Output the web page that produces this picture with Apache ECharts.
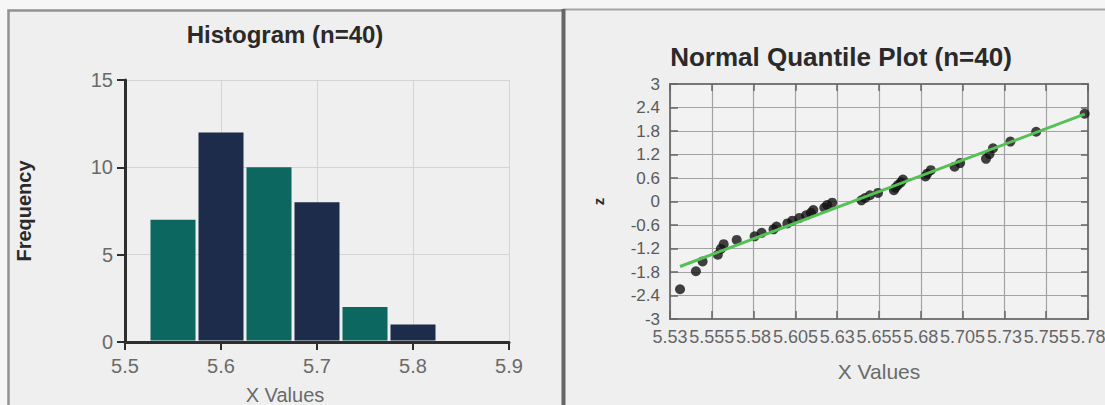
<!DOCTYPE html>
<html>
<head>
<meta charset="utf-8">
<script src="https://cdn.jsdelivr.net/npm/echarts@6/dist/echarts.min.js"></script>
<style>
html,body{margin:0;padding:0;background:#efefef;}
#chart{width:1105px;height:405px;}
</style>
</head>
<body>
<div id="chart"></div>
<script>
// ---- Data ----
// Histogram bins (X Values) and frequencies
const binStart = [5.525, 5.575, 5.625, 5.675, 5.725, 5.775];
const binEnd   = [5.575, 5.625, 5.675, 5.725, 5.775, 5.825];
const binCount = [7, 12, 10, 8, 2, 1];

// Normal quantile plot points (x value, z score)
const qqX = [5.536, 5.5455, 5.5495, 5.5586, 5.5604, 5.5621, 5.5699, 5.5806, 5.5848, 5.5919,
             5.5937, 5.6002, 5.6032, 5.6074, 5.6114, 5.6143, 5.6157, 5.6223, 5.624, 5.627,
             5.6445, 5.6467, 5.6496, 5.6544, 5.6639, 5.6648, 5.6663, 5.6681, 5.6693, 5.6828,
             5.6838, 5.686, 5.7002, 5.7035, 5.719, 5.7211, 5.7232, 5.7336, 5.749, 5.778];
const qqZ = [-2.24, -1.78, -1.53, -1.36, -1.21, -1.09, -0.98, -0.89, -0.80, -0.71,
             -0.64, -0.56, -0.49, -0.42, -0.35, -0.29, -0.22, -0.16, -0.09, -0.03,
             0.03, 0.09, 0.16, 0.22, 0.29, 0.35, 0.42, 0.49, 0.56, 0.64,
             0.71, 0.80, 0.89, 0.98, 1.09, 1.21, 1.36, 1.53, 1.78, 2.24];

// Fitted normal reference line
const fitX = [5.536, 5.778];
const fitZ = [-1.66, 2.23];

// Titles / axis names
const histTitle = 'Histogram (n=40)';
const qqTitle = 'Normal Quantile Plot (n=40)';
const histXName = 'X Values';
const histYName = 'Frequency';
const qqXName = 'X Values';
const qqYName = 'z';

// ---- Styling ----
const FONT = '"Liberation Sans", Arial, sans-serif';
const barColors = ['#0b675f', '#1d2c4a'];

const chart = echarts.init(document.getElementById('chart'), null, {renderer: 'svg'});

const histData = binStart.map((s, i) => [s, binEnd[i], binCount[i]]);
const qqData = qqX.map((x, i) => [x, qqZ[i]]);
const fitData = fitX.map((x, i) => [x, fitZ[i]]);

const txt = (text, x, y, size, weight, color, rotation) => ({
  type: 'text', x: x, y: y, rotation: rotation || 0, z: 100,
  style: {
    text: text, fill: color,
    font: weight + ' ' + size + 'px ' + FONT,
    align: 'center', verticalAlign: 'middle',
    textAlign: 'center', textVerticalAlign: 'middle'
  }
});

const option = {
  backgroundColor: '#efefef',
  animation: false,
  graphic: {
    elements: [
      {type: 'rect', shape: {x: 0, y: 0, width: 1105, height: 9}, style: {fill: '#f6f6f6'}, z: -10, silent: true},
      {type: 'rect', shape: {x: 0, y: 0, width: 7, height: 405}, style: {fill: '#f6f6f6'}, z: -10, silent: true},
      {type: 'rect', shape: {x: 8.5, y: 10.5, width: 555, height: 420}, style: {fill: 'none', stroke: '#929292', lineWidth: 2.5}, z: 50, silent: true},
      {type: 'line', shape: {x1: 563, y1: 9.5, x2: 1105, y2: 9.5}, style: {stroke: '#a5a5a5', lineWidth: 2}, z: 50, silent: true},
      {type: 'line', shape: {x1: 563.5, y1: 9, x2: 563.5, y2: 405}, style: {stroke: '#666666', lineWidth: 4}, z: 51, silent: true},
      txt(histTitle, 285, 34, 24, 'bold', '#2a2a2a'),
      txt(qqTitle, 841, 57, 26, 'bold', '#2a2a2a'),
      txt(histXName, 285, 395, 20, 'normal', '#6a6a6a')
    ]
  },
  grid: [
    {left: 125, top: 80, width: 384, height: 262, show: false, outerBoundsMode: 'none', containLabel: false},
    {left: 670, top: 84, width: 418, height: 235, show: true, backgroundColor: '#f2f2f2',
     borderColor: '#777', borderWidth: 2, outerBoundsMode: 'none', containLabel: false}
  ],
  xAxis: [
    {
      type: 'value', gridIndex: 0, min: 5.5, max: 5.9, interval: 0.1,
      axisLine: {show: true, onZero: false, lineStyle: {color: '#2e2e2e', width: 3}},
      axisTick: {show: true, inside: false, length: 8, lineStyle: {color: '#2e2e2e', width: 2}},
      axisLabel: {show: true, margin: 14, fontSize: 20, color: '#6a6a6a', fontFamily: FONT,
                  showMinLabel: true, showMaxLabel: true},
      splitLine: {show: true, lineStyle: {color: '#d4d4d4', width: 1}}
    },
    {
      type: 'value', gridIndex: 1, position: 'bottom', min: 5.53, max: 5.78, interval: 0.025,
      name: qqXName, nameLocation: 'middle', nameGap: 42, nameMoveOverlap: false,
      nameTextStyle: {fontSize: 21, color: '#6a6a6a', fontFamily: FONT},
      axisLine: {show: true, onZero: false, lineStyle: {color: '#777', width: 2}},
      axisTick: {show: true, inside: true, length: 8, lineStyle: {color: '#666', width: 1.5}},
      axisLabel: {show: true, margin: 9, fontSize: 18, color: '#666', fontFamily: FONT,
                  hideOverlap: false, showMinLabel: true, showMaxLabel: true},
      splitLine: {show: true, lineStyle: {color: '#a2a2a2', width: 1.2}}
    },
    {
      type: 'value', gridIndex: 1, position: 'top', min: 5.53, max: 5.78, interval: 0.025,
      axisLine: {show: true, onZero: false, lineStyle: {color: '#777', width: 2}},
      axisTick: {show: true, inside: true, length: 7, lineStyle: {color: '#666', width: 1.5}},
      axisLabel: {show: false},
      splitLine: {show: false}
    }
  ],
  yAxis: [
    {
      type: 'value', gridIndex: 0, min: 0, max: 15, interval: 5,
      name: histYName, nameLocation: 'middle', nameGap: 91, nameRotate: 90, nameMoveOverlap: false,
      nameTextStyle: {fontSize: 20, fontWeight: 'bold', color: '#2a2a2a', fontFamily: FONT},
      axisLine: {show: true, onZero: false, lineStyle: {color: '#2e2e2e', width: 3}},
      axisTick: {show: true, inside: false, length: 8, lineStyle: {color: '#2e2e2e', width: 2}},
      axisLabel: {show: true, margin: 12, fontSize: 20, color: '#6a6a6a', fontFamily: FONT,
                  showMinLabel: true, showMaxLabel: true},
      splitLine: {show: true, lineStyle: {color: '#d4d4d4', width: 1}}
    },
    {
      type: 'value', gridIndex: 1, position: 'left', min: -3, max: 3, interval: 0.6,
      name: qqYName, nameLocation: 'middle', nameGap: 64, nameRotate: 90, nameMoveOverlap: false,
      nameTextStyle: {fontSize: 15, fontWeight: 'bold', color: '#2a2a2a', fontFamily: FONT},
      axisLine: {show: true, onZero: false, lineStyle: {color: '#777', width: 2}},
      axisTick: {show: true, inside: true, length: 8, lineStyle: {color: '#666', width: 1.5}},
      axisLabel: {show: true, margin: 10, fontSize: 17, color: '#5a5a5a', fontFamily: FONT,
                  showMinLabel: true, showMaxLabel: true},
      splitLine: {show: true, lineStyle: {color: '#a2a2a2', width: 1.2}}
    },
    {
      type: 'value', gridIndex: 1, position: 'right', min: -3, max: 3, interval: 0.6,
      axisLine: {show: true, onZero: false, lineStyle: {color: '#777', width: 2}},
      axisTick: {show: true, inside: true, length: 7, lineStyle: {color: '#666', width: 1.5}},
      axisLabel: {show: false},
      splitLine: {show: false}
    }
  ],
  series: [
    {
      type: 'custom', xAxisIndex: 0, yAxisIndex: 0,
      data: histData,
      encode: {x: [0, 1], y: 2},
      renderItem: function (params, api) {
        const s = api.value(0), e = api.value(1), c = api.value(2);
        const p0 = api.coord([s, c]);
        const p1 = api.coord([e, 0]);
        return {
          type: 'rect',
          shape: {x: p0[0] + 1.5, y: p0[1], width: p1[0] - p0[0] - 3, height: p1[1] - p0[1] - 1.5},
          style: {fill: barColors[params.dataIndex % 2]}
        };
      },
      z: 3
    },
    {
      type: 'scatter', xAxisIndex: 1, yAxisIndex: 1,
      data: qqData, symbol: 'circle', symbolSize: 10,
      itemStyle: {color: '#111111'}, z: 3
    },
    {
      type: 'line', xAxisIndex: 1, yAxisIndex: 1,
      data: fitData, symbol: 'none',
      lineStyle: {color: '#55c055', width: 3}, z: 4
    }
  ]
};

chart.setOption(option);
</script>
</body>
</html>
